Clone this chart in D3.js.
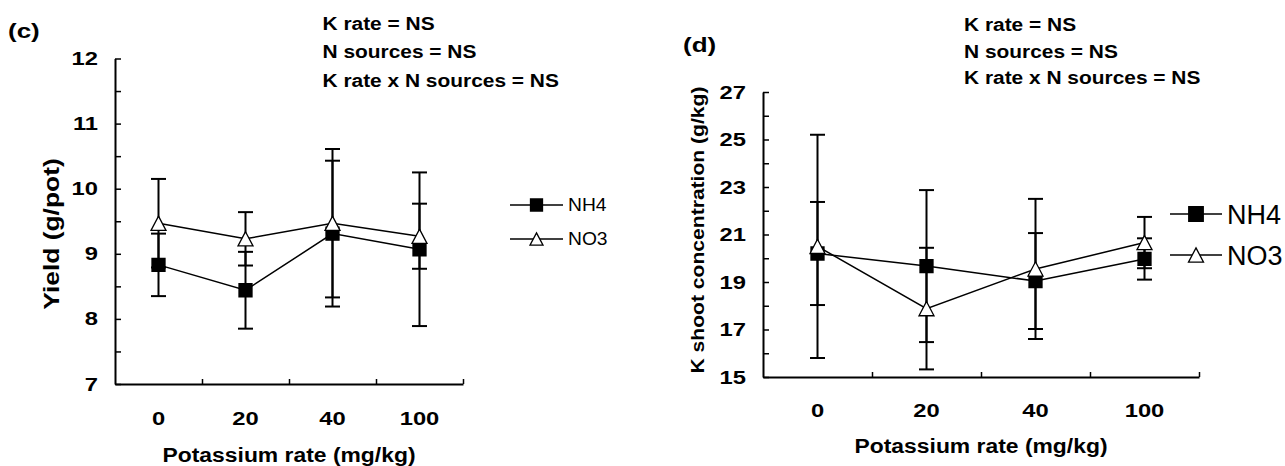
<!DOCTYPE html>
<html>
<head>
<meta charset="utf-8">
<script src="https://cdn.jsdelivr.net/npm/d3@7"></script>
<style>
  body { margin: 0; background: #fff; }
  text { font-family: Arial, "Liberation Sans", sans-serif; fill: #000; }
</style>
</head>
<body>
<svg id="chart" width="1285" height="466"></svg>
<script>
// potassium rates (x categories)
const kRates = ["0", "20", "40", "100"];

// (c) yield, g/pot
const yieldNH4 = [8.83, 8.44, 9.31, 9.07];
const yieldNH4Err = [0.48, 0.59, 1.12, 1.18];
const yieldNO3 = [9.47, 9.23, 9.47, 9.27];
const yieldNO3Err = [0.68, 0.41, 1.14, 0.50];

// (d) K shoot concentration, g/kg
const kShootNH4 = [20.20, 19.67, 19.04, 19.97];
const kShootNH4Err = [2.17, 3.20, 2.02, 0.87];
const kShootNO3 = [20.50, 17.88, 19.55, 20.66];
const kShootNO3Err = [4.70, 2.56, 2.95, 1.08];

const yTicksC = [7, 7.5, 8, 8.5, 9, 9.5, 10, 10.5, 11, 11.5, 12];
const yTicksD = [15, 16, 17, 18, 19, 20, 21, 22, 23, 24, 25, 26, 27];

const seriesNames = ["NH4", "NO3"];
const statLines = ["K rate = NS", "N sources = NS", "K rate x N sources = NS"];

const svg = d3.select("#chart");
svg.append("rect").attr("width", 1285).attr("height", 466).attr("fill", "#fff");

// triangle centred on its bounding box, like the spreadsheet marker
const triUp = {
  draw(ctx, size) {
    const w = Math.sqrt(size), h = w * 0.95;
    ctx.moveTo(0, -h / 2);
    ctx.lineTo(w / 2, h / 2);
    ctx.lineTo(-w / 2, h / 2);
    ctx.closePath();
  }
};

function widen(sel, sx) {
  sel.each(function () {
    const t = d3.select(this);
    const x = +t.attr("x") || 0;
    t.attr("x", x / sx).attr("transform", `scale(${sx},1)`);
  });
}

function putText(g, str, x, y, opts) {
  const sx = opts.sx || 1;
  const rot = opts.rotate ? " rotate(-90)" : "";
  return g.append("text")
    .attr("transform", `translate(${x},${y})${rot} scale(${sx},1)`)
    .attr("text-anchor", opts.anchor || "start")
    .style("font-size", opts.size + "px")
    .style("font-weight", opts.bold === false ? "normal" : "bold")
    .text(str);
}

function drawPanel(c) {
  const g = svg.append("g");
  const x = d3.scaleBand().domain(kRates).range([c.x0, c.x1]);
  const xb = d3.scaleLinear().domain([0, kRates.length]).range([c.x0, c.x1]);
  const y = d3.scaleLinear().domain(c.domain).range([c.yBot, c.yTop]);
  const cx = i => x(kRates[i]) + x.bandwidth() / 2;

  // y axis, ticks pointing inwards
  const ya = g.append("g").attr("transform", `translate(${c.x0},0)`)
    .call(d3.axisLeft(y).tickValues(c.yTicks).tickSizeInner(-6).tickSizeOuter(0)
      .tickPadding(17).tickFormat(c.yFormat));
  ya.selectAll("text").style("font-size", "19px").style("font-weight", "bold");
  widen(ya.selectAll("text"), 1.25);

  // x axis: boundary ticks pointing up
  g.append("g").attr("transform", `translate(0,${c.yBot})`)
    .call(d3.axisBottom(xb).tickValues(d3.range(1, kRates.length + 1))
      .tickSizeInner(-5).tickSizeOuter(0).tickFormat(""));
  // category labels
  const xl = g.append("g").attr("transform", `translate(0,${c.yBot})`)
    .call(d3.axisBottom(x).tickSize(0).tickPadding(0));
  xl.select(".domain").remove();
  xl.selectAll("text").attr("y", c.xLabelY).attr("dy", null)
    .style("font-size", "19px").style("font-weight", "bold");
  widen(xl.selectAll("text"), 1.25);

  g.selectAll(".domain").attr("stroke-width", 2);
  g.selectAll(".tick line").attr("stroke-width", 1.5);

  // titles
  putText(g, "Potassium rate (mg/kg)", (c.x0 + c.x1) / 2, c.xTitleY,
    { size: 21, anchor: "middle", sx: 1.09 });
  putText(g, c.yTitle, c.yTitleX, c.yTitleY,
    { size: c.yTitleSize, anchor: "middle", sx: c.yTitleSx, rotate: true });
  putText(g, c.tag, c.tagX, c.tagY, { size: 20, sx: 1.3 });
  statLines.forEach((s, i) =>
    putText(g, s, c.statX, c.statY[i], { size: 19, sx: 1.1 }));

  const series = [
    { vals: c.nh4, err: c.nh4Err, sym: d3.symbolSquare, symSize: c.sq * c.sq, fill: "#000" },
    { vals: c.no3, err: c.no3Err, sym: triUp, symSize: c.tri * c.tri, fill: "#fff" }
  ];

  const line = d3.line().x((d, i) => cx(i)).y(d => y(d));
  series.forEach(s => {
    g.append("path").attr("d", line(s.vals))
      .attr("fill", "none").attr("stroke", "#000").attr("stroke-width", 1.5);
  });

  // error bars
  series.forEach(s => {
    const eb = g.append("g").attr("stroke", "#000").attr("stroke-width", 2);
    s.vals.forEach((v, i) => {
      const hi = y(v + s.err[i]), lo = y(v - s.err[i]), px = cx(i);
      eb.append("line").attr("x1", px).attr("x2", px).attr("y1", hi).attr("y2", lo);
      eb.append("line").attr("x1", px - 7.5).attr("x2", px + 7.5).attr("y1", hi).attr("y2", hi);
      eb.append("line").attr("x1", px - 7.5).attr("x2", px + 7.5).attr("y1", lo).attr("y2", lo);
    });
  });

  // markers
  series.forEach(s => {
    g.selectAll(null).data(s.vals).enter().append("path")
      .attr("d", d3.symbol(s.sym, s.symSize))
      .attr("transform", (d, i) => `translate(${cx(i)},${y(d)})`)
      .attr("fill", s.fill).attr("stroke", "#000").attr("stroke-width", 1.3);
  });

  // legend
  const lg = c.legend;
  series.forEach((s, i) => {
    const ly = lg.y[i];
    g.append("line").attr("x1", lg.x1).attr("x2", lg.x2).attr("y1", ly).attr("y2", ly)
      .attr("stroke", "#000").attr("stroke-width", 1.5);
    g.append("path").attr("d", d3.symbol(s.sym, (i ? lg.tri : lg.sq) ** 2))
      .attr("transform", `translate(${(lg.x1 + lg.x2) / 2},${ly})`)
      .attr("fill", s.fill).attr("stroke", "#000").attr("stroke-width", 1.3);
    putText(g, seriesNames[i], lg.textX, ly + lg.size * 0.36,
      { size: lg.size, bold: false, sx: lg.sx });
  });
}

drawPanel({
  x0: 115, x1: 463, yTop: 58.5, yBot: 384, domain: [7, 12],
  yTicks: yTicksC, yFormat: d => Number.isInteger(d) ? d : "",
  nh4: yieldNH4, nh4Err: yieldNH4Err, no3: yieldNO3, no3Err: yieldNO3Err,
  sq: 13, tri: 15, xLabelY: 41, xTitleY: 461.5,
  yTitle: "Yield (g/pot)", yTitleX: 58.5, yTitleY: 234, yTitleSize: 22, yTitleSx: 1.2,
  tag: "(c)", tagX: 8, tagY: 38,
  statX: 322.5, statY: [30, 58.3, 86.7],
  legend: { x1: 510, x2: 563, y: [205, 239], sq: 12, tri: 13, textX: 568, size: 17.5, sx: 1.1 }
});

drawPanel({
  x0: 763, x1: 1199, yTop: 92, yBot: 377, domain: [15, 27],
  yTicks: yTicksD, yFormat: d => d % 2 === 1 ? d : "",
  nh4: kShootNH4, nh4Err: kShootNH4Err, no3: kShootNO3, no3Err: kShootNO3Err,
  sq: 13, tri: 15, xLabelY: 40, xTitleY: 453,
  yTitle: "K shoot concentration (g/kg)", yTitleX: 704, yTitleY: 230, yTitleSize: 18.5, yTitleSx: 1.14,
  tag: "(d)", tagX: 683, tagY: 51.5,
  statX: 964, statY: [31, 57.5, 83.5],
  legend: { x1: 1170, x2: 1222, y: [214, 255], sq: 14.5, tri: 15, textX: 1227, size: 27, sx: 1.0 }
});
</script>
</body>
</html>
